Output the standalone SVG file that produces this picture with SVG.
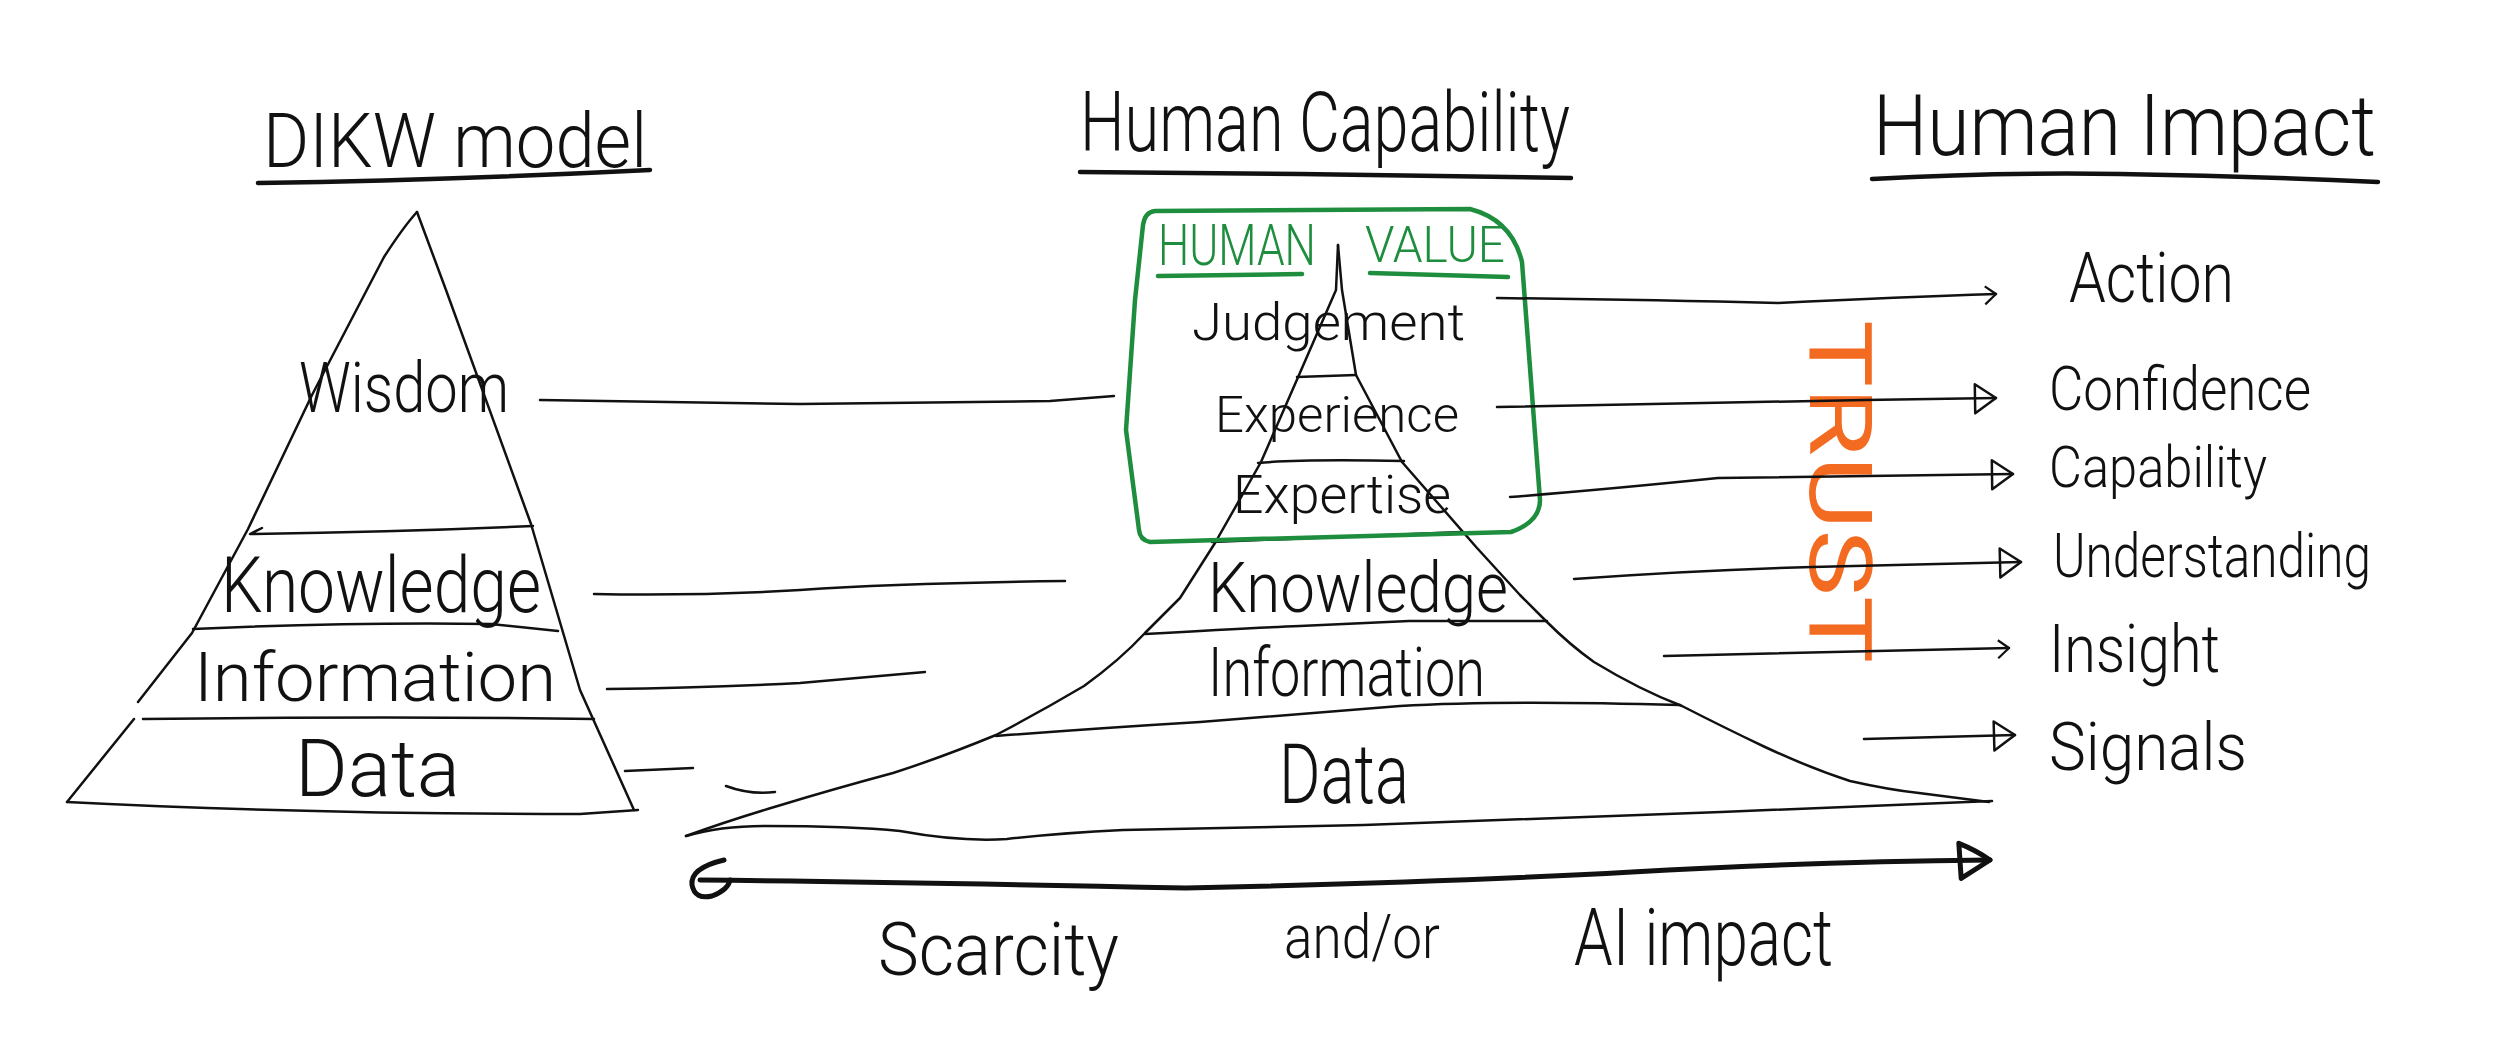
<svg xmlns="http://www.w3.org/2000/svg" width="2500" height="1049" viewBox="0 0 2500 1049">
<style>
  text { font-family: Roboto, "Liberation Sans", sans-serif; font-weight: 300; fill: #111; }
  .ln { fill: none; stroke: #111; stroke-width: 2.5; stroke-linecap: round; stroke-linejoin: round; }
  .ul { fill: none; stroke: #111; stroke-width: 4.5; stroke-linecap: round; }
  .gr { fill: none; stroke: #1e8e3e; stroke-width: 4.5; stroke-linecap: round; stroke-linejoin: round; }
  .gt { fill: #1e8e3e; }
  .ax { fill: none; stroke: #111; stroke-width: 5; stroke-linecap: round; stroke-linejoin: round; }
</style>
<defs>
  <marker id="tri" markerUnits="userSpaceOnUse" markerWidth="40" markerHeight="40" refX="24" refY="16" orient="auto" overflow="visible">
    <path d="M3,2 L24,16 L3,31 Z" fill="none" stroke="#111" stroke-width="2.5" stroke-linejoin="round"/>
  </marker>
  <marker id="small" markerUnits="userSpaceOnUse" markerWidth="20" markerHeight="30" refX="14" refY="10" orient="auto" overflow="visible">
    <path d="M3,2 L14,10 L3,20" fill="none" stroke="#111" stroke-width="2.2" stroke-linejoin="round"/>
  </marker>
  <marker id="big" markerUnits="userSpaceOnUse" markerWidth="50" markerHeight="50" refX="34" refY="18" orient="auto" overflow="visible">
    <path d="M3,1 Q20,8 34,18 Q18,28 5,36 Z" fill="none" stroke="#111" stroke-width="5" stroke-linejoin="round"/>
  </marker>
</defs>

<g id="titles">
  <text x="263" y="167" font-size="76" textLength="384" lengthAdjust="spacingAndGlyphs">DIKW model</text>
  <path class="ul" d="M258,183 Q450,180 650,170"/>
  <text x="1080" y="151" font-size="84" textLength="490" lengthAdjust="spacingAndGlyphs">Human Capability</text>
  <path class="ul" d="M1080,172 L1300,174 L1571,178"/>
  <text x="1873" y="155" font-size="86" textLength="503" lengthAdjust="spacingAndGlyphs">Human Impact</text>
  <path class="ul" d="M1872,179 Q2000,172 2120,174 Q2250,176 2378,182"/>
</g>

<g id="dikw-pyramid">
  <path class="ln" d="M417,212 C405,225 395,240 384,257 L312,395 L248,529 L192,633 L138,702"/>
  <path class="ln" d="M134,719 L67,802"/>
  <path class="ln" d="M417,212 L446,290 L531,524 L580,690 L634,810"/>
  <path class="ln" d="M67,802 Q300,814 580,814 L638,810"/>
  <path class="ln" d="M262,528 L250,534 Q400,532 533,526"/>
  <path class="ln" d="M193,629 Q350,622 491,624 L558,631"/>
  <path class="ln" d="M143,719 Q400,716 594,719"/>
  <text x="299" y="412" font-size="70" textLength="210" lengthAdjust="spacingAndGlyphs">Wisdom</text>
  <text x="221" y="612" font-size="78" textLength="320" lengthAdjust="spacingAndGlyphs">Knowledge</text>
  <text x="194" y="701" font-size="68" textLength="362" lengthAdjust="spacingAndGlyphs">Information</text>
  <text x="295" y="796" font-size="80" textLength="165" lengthAdjust="spacingAndGlyphs">Data</text>
</g>

<g id="capability-pyramid">
  <path class="ln" d="M1338,245 L1336,290 L1299,375 L1261,462 L1215,543 L1180,598 L1145,633 Q1120,660 1084,686 Q1040,712 996,735 Q940,758 893,773 Q830,790 781,805 Q730,820 686,836"/>
  <path class="ln" d="M726,786 Q750,795 775,792"/>
  <path class="ln" d="M1338,245 L1342,290 L1356,375 L1402,462 L1477,548 L1520,595 L1547,622 Q1570,645 1594,662 Q1640,690 1682,706 Q1725,728 1765,747 Q1810,768 1850,781 Q1890,790 1919,793 L1989,802"/>
  <path class="ln" d="M686,836 Q720,826 766,826 Q850,826 900,831 Q960,842 1007,839 Q1060,833 1123,830 L1364,825 Q1550,818 1721,812 L1992,801"/>
  <path class="ln" d="M1297,377 L1356,375"/>
  <path class="ln" d="M1258,463 Q1300,459 1404,461"/>
  <path class="ln" d="M1212,542 Q1350,536 1462,532"/>
  <path class="ln" d="M1145,634 Q1250,628 1300,626 L1409,621 L1547,621"/>
  <path class="ln" d="M996,736 Q1100,728 1200,722 Q1320,712 1400,706 Q1500,700 1680,705"/>
  <text x="1192" y="340" font-size="52" textLength="273" lengthAdjust="spacingAndGlyphs">Judgement</text>
  <text x="1215" y="432" font-size="50" textLength="244" lengthAdjust="spacingAndGlyphs">Experience</text>
  <text x="1233" y="513" font-size="54" textLength="218" lengthAdjust="spacingAndGlyphs">Expertise</text>
  <text x="1208" y="612" font-size="70" textLength="300" lengthAdjust="spacingAndGlyphs">Knowledge</text>
  <text x="1208" y="696" font-size="68" textLength="277" lengthAdjust="spacingAndGlyphs">Information</text>
  <text x="1279" y="803" font-size="84" textLength="130" lengthAdjust="spacingAndGlyphs">Data</text>
</g>

<g id="human-value">
  <path class="gr" d="M1155,211 L1470,209 Q1512,220 1522,262 L1540,500 Q1540,522 1511,532 L1150,542 Q1140,540 1139,530 L1126,430 L1135,300 L1143,225 Q1145,212 1155,211 Z"/>
  <text class="gt" x="1158" y="265" font-size="58" textLength="158" lengthAdjust="spacingAndGlyphs">HUMAN</text>
  <text class="gt" x="1365" y="262" font-size="50" textLength="140" lengthAdjust="spacingAndGlyphs">VALUE</text>
  <path class="gr" d="M1158,276 L1302,274"/>
  <path class="gr" d="M1370,273 L1508,277"/>
</g>

<g id="human-impact">
  <text x="2069" y="302" font-size="70" textLength="165" lengthAdjust="spacingAndGlyphs">Action</text>
  <text x="2049" y="410" font-size="62" textLength="262" lengthAdjust="spacingAndGlyphs">Confidence</text>
  <text x="2049" y="487" font-size="58" textLength="218" lengthAdjust="spacingAndGlyphs">Capability</text>
  <text x="2053" y="577" font-size="62" textLength="318" lengthAdjust="spacingAndGlyphs">Understanding</text>
  <text x="2049" y="672" font-size="66" textLength="171" lengthAdjust="spacingAndGlyphs">Insight</text>
  <text x="2049" y="770" font-size="66" textLength="198" lengthAdjust="spacingAndGlyphs">Signals</text>
</g>

<g id="trust">
  <text transform="translate(1810,320) rotate(90)" font-size="88" textLength="343" lengthAdjust="spacingAndGlyphs" style="fill:#f36a21;font-weight:400">TRUST</text>
</g>

<g id="connectors">
  <path class="ln" d="M540,400 L800,404 L1050,401 L1114,396"/>
  <path class="ln" d="M594,594 Q700,596 800,590 Q900,583 1065,581"/>
  <path class="ln" d="M607,689 Q700,688 800,683 L925,672"/>
  <path class="ln" d="M625,771 L693,768"/>
  <path class="ln" d="M1497,298 Q1650,300 1778,303 Q1900,297 1996,294" marker-end="url(#small)"/>
  <path class="ln" d="M1497,407 L1865,400 L1996,398" marker-end="url(#tri)"/>
  <path class="ln" d="M1510,497 Q1600,490 1718,478 L2013,474" marker-end="url(#tri)"/>
  <path class="ln" d="M1574,579 Q1700,570 1812,567 L2021,562" marker-end="url(#tri)"/>
  <path class="ln" d="M1664,656 L2009,648" marker-end="url(#small)"/>
  <path class="ln" d="M1864,739 L2015,735" marker-end="url(#tri)"/>
  <path class="ax" d="M700,880 Q900,882 1186,888 Q1450,882 1632,872 Q1800,862 1990,860" marker-end="url(#big)"/>
  <path class="ax" d="M724,860 Q690,868 692,885 Q695,900 712,896 Q728,890 730,880"/>
</g>

<g id="axis-labels">
  <text x="878" y="975" font-size="74" textLength="241" lengthAdjust="spacingAndGlyphs">Scarcity</text>
  <text x="1284" y="958" font-size="62" textLength="156" lengthAdjust="spacingAndGlyphs">and/or</text>
  <text x="1574" y="965" font-size="80" textLength="259" lengthAdjust="spacingAndGlyphs">AI impact</text>
</g>
</svg>
